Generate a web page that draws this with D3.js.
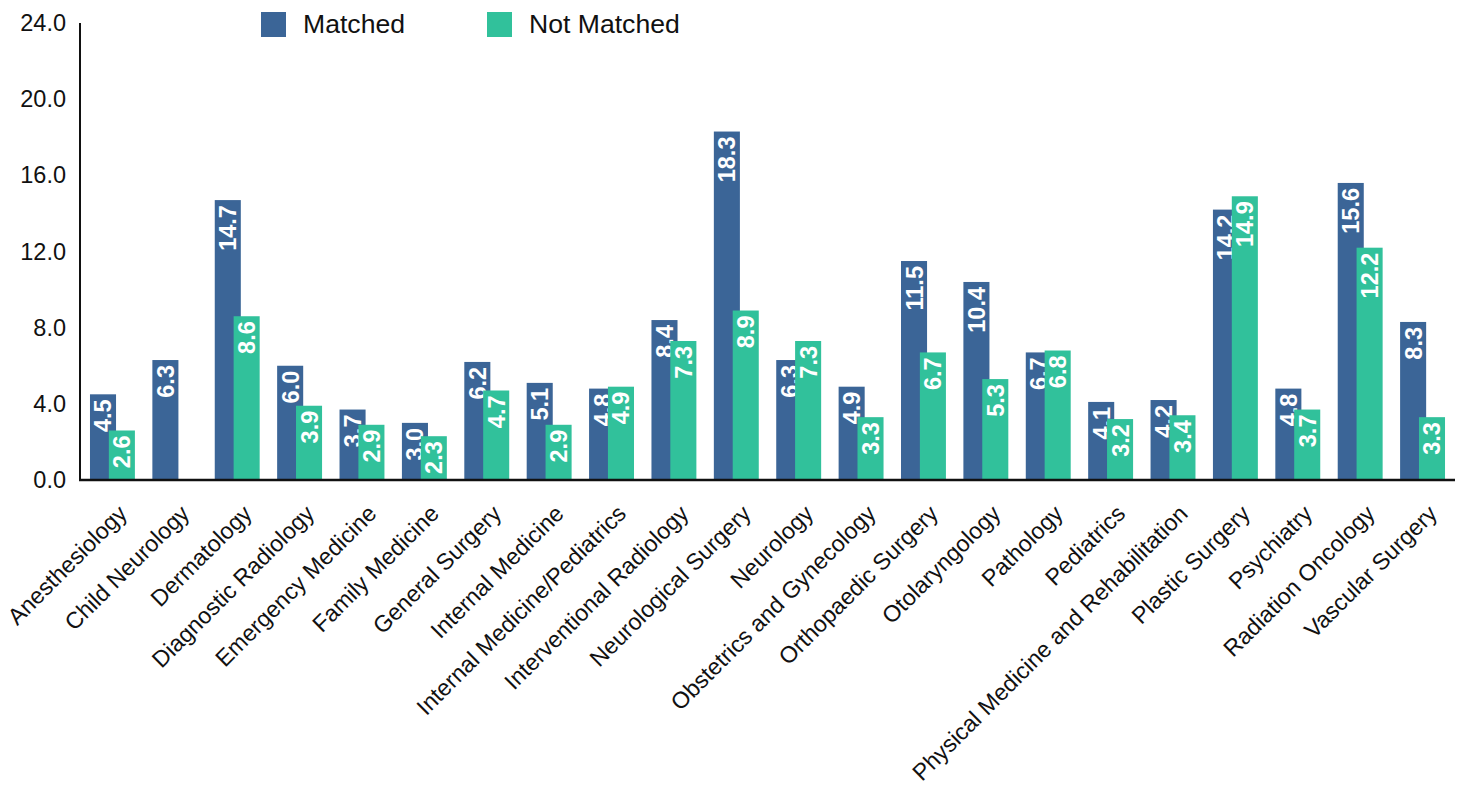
<!DOCTYPE html>
<html>
<head>
<meta charset="utf-8">
<script src="https://cdn.jsdelivr.net/npm/d3@7"></script>
<style>
  html, body { margin: 0; padding: 0; background: #fff; }
  svg { display: block; font-family: "Liberation Sans", Arial, sans-serif; }
</style>
</head>
<body>
<svg id="chart" width="1461" height="785"></svg>
<script>
const categories = ["Anesthesiology", "Child Neurology", "Dermatology", "Diagnostic Radiology",
  "Emergency Medicine", "Family Medicine", "General Surgery", "Internal Medicine",
  "Internal Medicine/Pediatrics", "Interventional Radiology", "Neurological Surgery", "Neurology",
  "Obstetrics and Gynecology", "Orthopaedic Surgery", "Otolaryngology", "Pathology", "Pediatrics",
  "Physical Medicine and Rehabilitation", "Plastic Surgery", "Psychiatry", "Radiation Oncology",
  "Vascular Surgery"];
const matched = [4.5, 6.3, 14.7, 6.0, 3.7, 3.0, 6.2, 5.1, 4.8, 8.4, 18.3, 6.3, 4.9, 11.5, 10.4, 6.7, 4.1, 4.2, 14.2, 4.8, 15.6, 8.3];
const notMatched = [2.6, null, 8.6, 3.9, 2.9, 2.3, 4.7, 2.9, 4.9, 7.3, 8.9, 7.3, 3.3, 6.7, 5.3, 6.8, 3.2, 3.4, 14.9, 3.7, 12.2, 3.3];
const seriesNames = ["Matched", "Not Matched"];
const yTicks = [0, 4, 8, 12, 16, 20, 24];

(function () {
const colors = ["#3b6597", "#31c19b"];
const svg = d3.select("#chart");
const mLeft = 80, mRight = 1455, mTop = 23, mBottom = 480;

const x = d3.scaleBand().domain(categories).range([mLeft, mRight]).paddingInner(0.28).paddingOuter(0.16);
const y = d3.scaleLinear().domain([0, 24]).range([mBottom, mTop]);
const bw = x.bandwidth() * 0.58;
const offsets = [0, x.bandwidth() - bw];

const series = [matched, notMatched];
series.forEach((vals, si) => {
  const g = svg.append("g");
  const data = categories.map((c, i) => ({c, v: vals[i]})).filter(d => d.v != null);
  g.selectAll("rect").data(data).enter().append("rect")
    .attr("x", d => x(d.c) + offsets[si])
    .attr("y", d => y(d.v))
    .attr("width", bw)
    .attr("height", d => y(0) - y(d.v))
    .attr("fill", colors[si]);
  g.selectAll("text").data(data).enter().append("text")
    .attr("transform", d => `translate(${x(d.c) + offsets[si] + bw / 2},${y(d.v) + 5}) rotate(-90)`)
    .attr("text-anchor", "end")
    .attr("dy", "0.36em")
    .attr("fill", "#fff")
    .attr("font-weight", "bold")
    .attr("font-size", 23.5)
    .text(d => d.v.toFixed(1));
});

// Y axis
const yAxis = svg.append("g").attr("transform", `translate(${mLeft},0)`)
  .call(d3.axisLeft(y).tickValues(yTicks).tickFormat(d3.format(".1f")).tickSize(0).tickPadding(14));
yAxis.select(".domain").remove();
yAxis.selectAll("text").attr("font-size", 23.5).attr("fill", "#111").style("font-family", "Liberation Sans, Arial, sans-serif");
svg.append("line").attr("x1", mLeft).attr("x2", mLeft).attr("y1", mTop).attr("y2", mBottom + 1)
  .attr("stroke", "#111").attr("stroke-width", 2);

// X axis
const xAxis = svg.append("g").attr("transform", `translate(0,${mBottom})`)
  .call(d3.axisBottom(x).tickSize(0).tickPadding(0));
xAxis.select(".domain").remove();
xAxis.selectAll("text")
  .attr("font-size", 23.2).attr("fill", "#111")
  .style("font-family", "Liberation Sans, Arial, sans-serif")
  .attr("text-anchor", "end")
  .attr("dy", null).attr("y", null)
  .attr("transform", "translate(16,35) rotate(-45)");
svg.append("line").attr("x1", mLeft - 1).attr("x2", mRight).attr("y1", mBottom).attr("y2", mBottom)
  .attr("stroke", "#111").attr("stroke-width", 2.5);

// Legend
const legendX = [261, 487];
seriesNames.forEach((n, i) => {
  svg.append("rect").attr("x", legendX[i]).attr("y", 12).attr("width", 25).attr("height", 25).attr("fill", colors[i]);
  svg.append("text").attr("x", legendX[i] + 42).attr("y", 33).attr("font-size", 26.6).attr("fill", "#111").text(n);
});
})();
</script>
</body>
</html>
